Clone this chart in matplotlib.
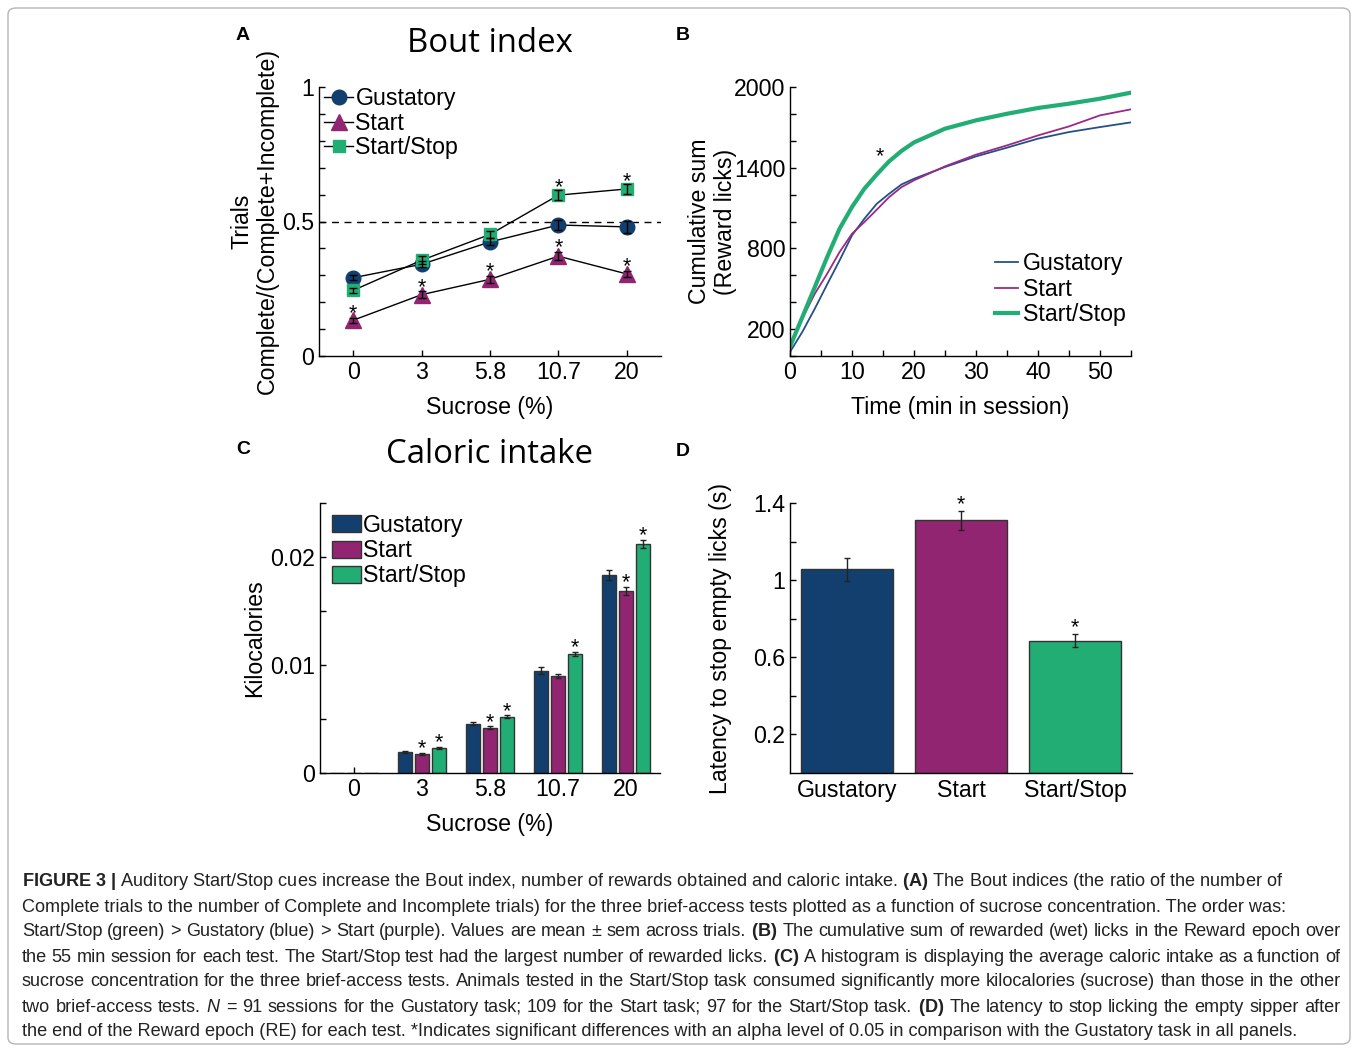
import matplotlib
matplotlib.use("Agg")
import matplotlib.pyplot as plt
from matplotlib import font_manager
from matplotlib.ticker import MultipleLocator, FixedLocator
from matplotlib.patches import FancyBboxPatch

BLUE = "#133f6e"
PURPLE = "#912571"
GREEN = "#22ad74"
LINE_BLUE = "#24508a"
LINE_PURPLE = "#9a2a86"

# ---- A: bout index
sucrose = ["0", "3", "5.8", "10.7", "20"]
bout_gus = [0.291, 0.341, 0.424, 0.487, 0.480]
bout_gus_err = [0.010, 0.012, 0.013, 0.020, 0.022]
bout_start = [0.133, 0.228, 0.285, 0.371, 0.305]
bout_start_err = [0.010, 0.012, 0.012, 0.015, 0.012]
bout_ss = [0.244, 0.356, 0.452, 0.598, 0.621]
bout_ss_err = [0.010, 0.015, 0.013, 0.018, 0.018]
bout_start_sig = [True, True, True, True, True]
bout_ss_sig = [False, False, False, True, True]

# ---- B: cumulative reward licks
time_min = [0, 2, 4, 6, 8, 10, 12, 14, 16, 18, 20, 25, 30, 35, 40, 45, 50, 55]
cum_gus = [30, 180, 352, 533, 711, 897, 1021, 1132, 1207, 1276, 1318,
           1405, 1484, 1549, 1616, 1665, 1702, 1737]
cum_start = [70, 280, 463, 612, 773, 909, 996, 1088, 1182, 1256, 1306,
             1410, 1497, 1566, 1640, 1707, 1789, 1834]
cum_ss = [70, 290, 513, 736, 947, 1108, 1244, 1350, 1448, 1525, 1588,
          1690, 1752, 1801, 1844, 1876, 1913, 1958]
cum_star = (14.5, 1480)

# ---- C: caloric intake
kcal_gus = [0, 0.00198, 0.00458, 0.00947, 0.01833]
kcal_gus_err = [0, 0.0001, 0.0001, 0.0003, 0.0005]
kcal_start = [0, 0.00173, 0.00421, 0.00898, 0.01684]
kcal_start_err = [0, 0.0001, 0.0001, 0.0002, 0.0004]
kcal_ss = [0, 0.00235, 0.00523, 0.01099, 0.02121]
kcal_ss_err = [0, 0.0001, 0.0001, 0.0002, 0.0004]
kcal_start_sig = [False, True, True, False, True]
kcal_ss_sig = [False, True, True, True, True]

# ---- D: latency
tasks = ["Gustatory", "Start", "Start/Stop"]
latency = [1.057, 1.310, 0.685]
latency_err = [0.059, 0.048, 0.034]
latency_sig = [False, True, True]

caption_lines = [
    r"$\mathbf{FIGURE\ 3\ |}$ Auditory Start/Stop cues increase the Bout index, number of rewards obtained and caloric intake. $\mathbf{(A)}$ The Bout indices (the ratio of the number of",
    "Complete trials to the number of Complete and Incomplete trials) for the three brief-access tests plotted as a function of sucrose concentration. The order was:",
    r"Start/Stop (green) > Gustatory (blue) > Start (purple). Values are mean ± sem across trials. $\mathbf{(B)}$ The cumulative sum of rewarded (wet) licks in the Reward epoch over",
    r"the 55 min session for each test. The Start/Stop test had the largest number of rewarded licks. $\mathbf{(C)}$ A histogram is displaying the average caloric intake as a function of",
    "sucrose concentration for the three brief-access tests. Animals tested in the Start/Stop task consumed significantly more kilocalories (sucrose) than those in the other",
    r"two brief-access tests. $\mathit{N}$ = 91 sessions for the Gustatory task; 109 for the Start task; 97 for the Start/Stop task. $\mathbf{(D)}$ The latency to stop licking the empty sipper after",
    "the end of the Reward epoch (RE) for each test. *Indicates significant differences with an alpha level of 0.05 in comparison with the Gustatory task in all panels.",
]
justified = [False, False, True, True, True, True, False]

names = {f.name for f in font_manager.fontManager.ttflist}
cap_font = "Liberation Sans Narrow" if "Liberation Sans Narrow" in names else "Liberation Sans"
title_font = "Open Sans"
FS = 16.7

plt.rcParams["font.family"] = ["Liberation Sans", "DejaVu Sans"]
plt.rcParams["font.size"] = FS
plt.rcParams["axes.linewidth"] = 1.0
plt.rcParams["mathtext.fontset"] = "custom"
plt.rcParams["mathtext.rm"] = cap_font
plt.rcParams["mathtext.bf"] = cap_font + ":bold"
plt.rcParams["mathtext.it"] = cap_font + ":italic"

W, H = 1357, 1052
fig = plt.figure(figsize=(W / 100, H / 100), dpi=100)


def px_axes(x0, y0, x1, y1):
    return fig.add_axes([x0 / W, 1 - y1 / H, (x1 - x0) / W, (y1 - y0) / H])


def style(ax):
    for s in ["top", "right"]:
        ax.spines[s].set_visible(False)
    ax.tick_params(which="both", direction="in", length=4, width=1, labelsize=FS)


def star(ax, x, y, dy=0):
    ax.annotate("*", (x, y), xytext=(0, dy), textcoords="offset points",
                ha="center", va="baseline", fontsize=15.5)


pos = list(range(1, len(sucrose) + 1))

# ---------- A
axA = px_axes(319, 87, 661, 356)
style(axA)
axA.axhline(0.5, color="k", lw=1, ls=(0, (5, 4)), zorder=1)
series_a = [(bout_gus, bout_gus_err, BLUE, "o", 10.5, "Gustatory"),
            (bout_start, bout_start_err, PURPLE, "^", 11, "Start"),
            (bout_ss, bout_ss_err, GREEN, "s", 9, "Start/Stop")]
for vals, errs, col, mk, ms, lab in series_a:
    axA.plot(pos, vals, "-", color="k", lw=1, marker=mk, ms=ms, mfc=col, mec=col,
             label=lab, zorder=2)
    axA.errorbar(pos, vals, yerr=errs, fmt="none", ecolor="k", elinewidth=1,
                 capsize=3, zorder=3)
for i in range(len(pos)):
    if bout_start_sig[i]:
        star(axA, pos[i], bout_start[i] + bout_start_err[i], -1)
    if bout_ss_sig[i]:
        star(axA, pos[i], bout_ss[i] + bout_ss_err[i], -2)
axA.set_xlim(0.5, 5.5)
axA.set_ylim(0, 1)
axA.set_xticks(pos)
axA.set_xticklabels(sucrose)
axA.set_yticks([0, 0.5, 1])
axA.set_yticklabels(["0", "0.5", "1"])
axA.yaxis.set_minor_locator(MultipleLocator(0.1))
axA.set_xlabel("Sucrose (%)", labelpad=9)
axA.set_ylabel("Trials\nComplete/(Complete+Incomplete)", labelpad=2, linespacing=1.15)
axA.set_title("Bout index", fontsize=23.7, family=title_font, pad=25)
axA.legend(loc="upper left", bbox_to_anchor=(0.015, 1.0), frameon=False,
           handlelength=1.25, handletextpad=0.1, labelspacing=0.07,
           borderpad=0, borderaxespad=0, fontsize=FS)

# ---------- B
axB = px_axes(790, 87, 1131, 356)
style(axB)
axB.plot(time_min, cum_gus, color=LINE_BLUE, lw=1.3, label="Gustatory")
axB.plot(time_min, cum_start, color=LINE_PURPLE, lw=1.3, label="Start")
axB.plot(time_min, cum_ss, color=GREEN, lw=3, label="Start/Stop")
axB.text(cum_star[0], cum_star[1], "*", ha="center", va="center", fontsize=15.5)
axB.set_xlim(0, 55)
axB.set_ylim(0, 2000)
axB.set_xticks([0, 10, 20, 30, 40, 50])
axB.xaxis.set_minor_locator(MultipleLocator(5))
axB.set_yticks([200, 800, 1400, 2000])
axB.yaxis.set_minor_locator(MultipleLocator(200))
axB.set_xlabel("Time (min in session)", labelpad=9)
axB.set_ylabel("Cumulative sum\n(Reward licks)", labelpad=-2, linespacing=1.15)
axB.legend(loc="lower right", bbox_to_anchor=(0.985, 0.11), frameon=False,
           handlelength=1.0, handletextpad=0.2, labelspacing=0.12,
           borderpad=0, borderaxespad=0, fontsize=FS)

# ---------- C
axC = px_axes(320, 503, 660, 773)
style(axC)
bw = 0.22
off = 0.25
series_c = [(kcal_gus, kcal_gus_err, BLUE, -off, None, "Gustatory"),
            (kcal_start, kcal_start_err, PURPLE, 0, kcal_start_sig, "Start"),
            (kcal_ss, kcal_ss_err, GREEN, off, kcal_ss_sig, "Start/Stop")]
for vals, errs, col, dx, sig, lab in series_c:
    xs = [p + dx for p in pos]
    axC.bar(xs, vals, width=bw, color=col, edgecolor="#333333", linewidth=1,
            label=lab, zorder=2)
    ex = [x for x, v in zip(xs, vals) if v > 0]
    ev = [v for v in vals if v > 0]
    ee = [e for e, v in zip(errs, vals) if v > 0]
    axC.errorbar(ex, ev, yerr=ee, fmt="none", ecolor="#222222", elinewidth=1,
                 capsize=2.5, zorder=3)
    if sig:
        for x, v, e, s in zip(xs, vals, errs, sig):
            if s:
                star(axC, x, v + e, -1)
axC.set_xlim(0.5, 5.5)
axC.set_ylim(0, 0.025)
axC.set_xticks(pos)
axC.set_xticklabels(sucrose)
axC.set_yticks([0, 0.01, 0.02])
axC.set_yticklabels(["0", "0.01", "0.02"])
axC.yaxis.set_minor_locator(MultipleLocator(0.005))
axC.set_xlabel("Sucrose (%)", labelpad=9)
axC.set_ylabel("Kilocalories", labelpad=3)
axC.set_title("Caloric intake", fontsize=23.7, family=title_font, pad=29)
axC.legend(loc="upper left", bbox_to_anchor=(0.035, 0.96), frameon=False,
           handlelength=1.25, handleheight=0.75, handletextpad=0.1,
           labelspacing=0.1, borderpad=0, borderaxespad=0, fontsize=FS)

# ---------- D
axD = px_axes(790, 503, 1132, 773)
style(axD)
xd = [1, 2, 3]
axD.bar(xd, latency, width=0.8, color=[BLUE, PURPLE, GREEN], edgecolor="#333333",
        linewidth=1, zorder=2)
axD.errorbar(xd, latency, yerr=latency_err, fmt="none", ecolor="#222222",
             elinewidth=1, capsize=2.5, zorder=3)
for x, v, e, s in zip(xd, latency, latency_err, latency_sig):
    if s:
        star(axD, x, v + e, 1)
axD.set_xlim(0.5, 3.5)
axD.set_ylim(0, 1.4)
axD.set_xticks(xd)
axD.set_xticklabels(tasks)
axD.tick_params(axis="x", length=0, pad=4)
axD.set_yticks([0.2, 0.6, 1.0, 1.4])
axD.set_yticklabels(["0.2", "0.6", "1", "1.4"])
axD.yaxis.set_minor_locator(FixedLocator([0.4, 0.8, 1.2]))
axD.set_ylabel("Latency to stop empty licks (s)", labelpad=15)

# panel letters
for lab, x, y in [("A", 243, 35), ("B", 683, 35), ("C", 243, 450), ("D", 683, 452)]:
    fig.text(x / W, 1 - y / H, lab, fontsize=14, fontweight="bold",
             ha="center", va="center")

# border
fig.patches.append(FancyBboxPatch((8 / W, 8 / H), 1342 / W, 1036 / H,
                                  boxstyle="round,pad=0,rounding_size=0.006",
                                  transform=fig.transFigure, fill=False,
                                  edgecolor="#b5b5b5", linewidth=1))

# caption
renderer = fig.canvas.get_renderer()


def text_w(s, size):
    t = fig.text(0, 0, s, fontsize=size, family=cap_font)
    w = t.get_window_extent(renderer).width
    t.remove()
    return w


cap_size = 13 * 1260 / text_w(caption_lines[0], 13)
x_left, x_right = 22, 1340
for i, line in enumerate(caption_lines):
    yc = 1 - (882 + 25 * i) / H
    if not justified[i]:
        fig.text(x_left / W, yc, line, fontsize=cap_size, family=cap_font,
                 color="#222222", ha="left", va="center")
        continue
    words = line.split(" ")
    widths = [text_w(w, cap_size) for w in words]
    gap = (x_right - x_left - sum(widths)) / (len(words) - 1)
    x = x_left
    for w, wd in zip(words, widths):
        fig.text(x / W, yc, w, fontsize=cap_size, family=cap_font,
                 color="#222222", ha="left", va="center")
        x += wd + gap

fig.savefig("out.png", dpi=100)
